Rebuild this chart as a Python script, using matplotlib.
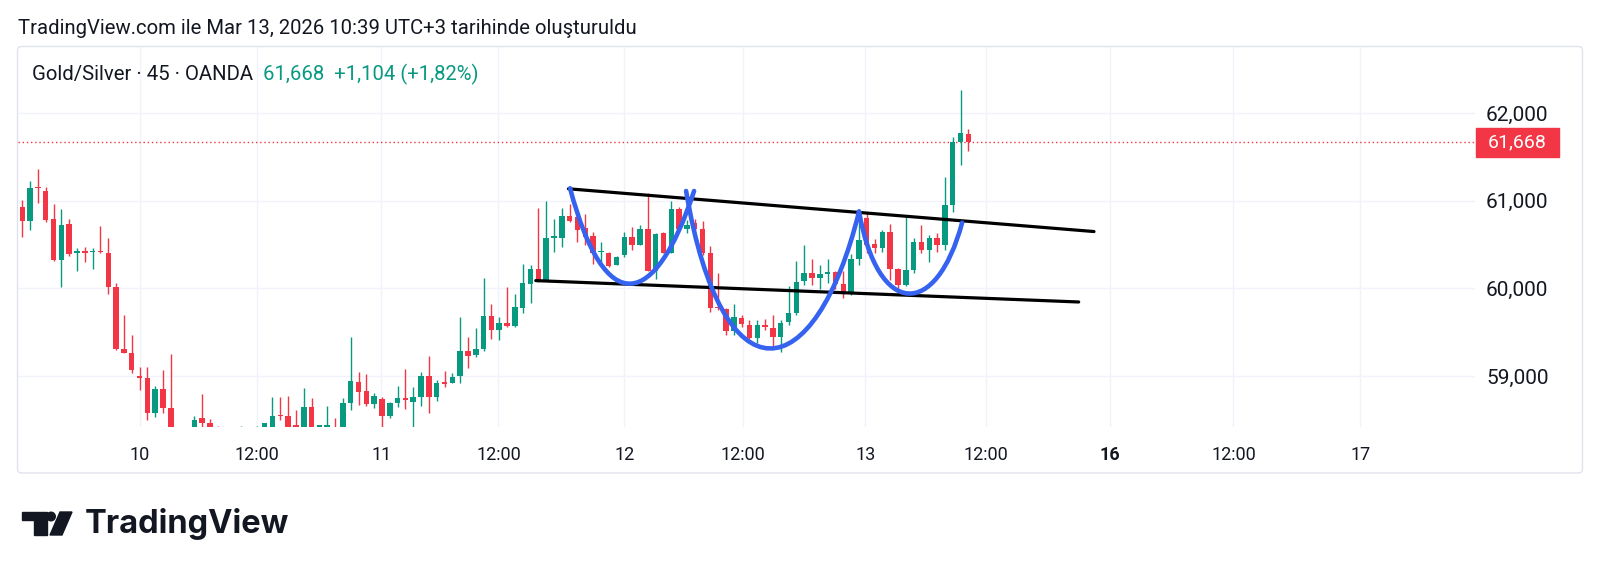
import matplotlib
matplotlib.use('Agg')
import matplotlib.pyplot as plt
import matplotlib.transforms as mtransforms
from matplotlib.patches import Rectangle, Polygon, Circle, PathPatch, FancyBboxPatch
from matplotlib.path import Path

plt.rcParams['font.family'] = ['Roboto', 'DejaVu Sans']

# Gold/Silver 45 min bars (OANDA)
opens = [60927, 60774, 61155, 61116, 60790, 60325, 60732, 60408, 60420, 60412,
         60427, 60401, 60020, 59309, 59260, 58993, 58974, 58582, 58849, 58636,
         58400, 58350, 58390, 58517, 58461, 58400, 58360, 58390, 58370, 58395,
         58380, 58410, 58390, 58556, 58544, 58442, 58400, 58644, 58410, 58415,
         58420, 58400, 58689, 58936, 58833, 58682, 58735, 58544, 58689, 58746,
         58708, 58758, 59001, 58765, 58929, 58917, 59001, 59286, 59240, 59309,
         59686, 59526, 59602, 59572, 59774, 60051, 60219, 60097, 60580, 60580,
         60831, 60820, 60686, 60599, 60416, 60401, 60268, 60382, 60591, 60496,
         60675, 60203, 60637, 60408, 60904, 60675, 60744, 60675, 60401, 59793,
         59762, 59518, 59659, 59583, 59431, 59583, 59545, 59443, 59621, 59716,
         60089, 60173, 60120, 60169, 60184, 60046, 59944, 60336, 60801, 60508,
         60458, 60648, 60219, 60040, 60211, 60527, 60439, 60580, 60496, 60957,
         61675, 61760]
highs = [61010, 61230, 61360, 61162, 60964, 60904, 60790, 60465, 60477, 60465,
         60713, 60572, 60059, 59697, 59469, 59100, 59100, 58887, 59069, 59252,
         58420, 58415, 58546, 58790, 58515, 58425, 58420, 58410, 58425, 58420,
         58425, 58470, 58765, 58765, 58772, 58613, 58866, 58746, 58445, 58659,
         58517, 58746, 59443, 59050, 59024, 58810, 58765, 58708, 58887, 59077,
         58872, 59050, 59233, 58955, 59062, 59032, 59671, 59443, 59545, 60116,
         59822, 59671, 60020, 59933, 60279, 60268, 60919, 61002, 60790, 60915,
         60964, 60850, 60850, 60648, 60534, 60420, 60371, 60648, 60705, 60724,
         61093, 60637, 60648, 61002, 60934, 60782, 60790, 60774, 60485, 60173,
         59774, 59822, 59697, 59640, 59640, 59648, 59697, 59640, 60029, 60317,
         60496, 60336, 60268, 60336, 60196, 60196, 60394, 60873, 60865, 60561,
         60667, 60739, 60230, 60827, 60572, 60724, 60610, 60629, 61269, 61732,
         62266, 61817]
lows = [60584, 60667, 60972, 60763, 60317, 60020, 60371, 60203, 60306, 60219,
        60401, 59936, 59298, 59260, 59031, 58841, 58498, 58536, 58582, 58350,
        58300, 58300, 58370, 58420, 58390, 58300, 58310, 58320, 58340, 58330,
        58350, 58390, 58370, 58498, 58380, 58390, 58380, 58390, 58400, 58400,
        58380, 58380, 58613, 58670, 58659, 58633, 58400, 58517, 58651, 58621,
        58400, 58659, 58582, 58719, 58872, 58917, 58924, 59096, 59214, 59290,
        59418, 59412, 59564, 59564, 59716, 59830, 60078, 60097, 60420, 60470,
        60762, 60534, 60496, 60279, 60306, 60249, 60268, 60356, 60439, 60496,
        60203, 60105, 60401, 60401, 60648, 60630, 60667, 60382, 59735, 59754,
        59469, 59469, 59564, 59420, 59374, 59526, 59317, 59279, 59583, 59697,
        60040, 60040, 59995, 60059, 59995, 59887, 59925, 60268, 60401, 60401,
        60420, 60097, 59925, 60029, 60180, 60401, 60306, 60420, 60439, 60873,
        61410, 61573]
closes = [60774, 61143, 61143, 60782, 60325, 60724, 60390, 60416, 60408, 60427,
          60416, 60020, 59309, 59260, 59069, 58981, 58575, 58849, 58636, 58400,
          58350, 58380, 58498, 58468, 58420, 58360, 58390, 58370, 58395, 58380,
          58405, 58468, 58548, 58544, 58400, 58420, 58644, 58410, 58442, 58437,
          58400, 58689, 58944, 58822, 58682, 58773, 58544, 58696, 58753, 58727,
          58758, 59001, 58758, 58917, 58910, 58993, 59286, 59229, 59309, 59686,
          59526, 59602, 59572, 59785, 60059, 60219, 60097, 60572, 60591, 60831,
          60770, 60667, 60591, 60408, 60427, 60257, 60356, 60584, 60496, 60675,
          60203, 60622, 60408, 60904, 60675, 60724, 60675, 60401, 59774, 59774,
          59518, 59671, 59594, 59431, 59583, 59557, 59443, 59602, 59716, 60078,
          60173, 60120, 60169, 60184, 60046, 59944, 60336, 60553, 60496, 60458,
          60648, 60219, 60040, 60211, 60527, 60439, 60580, 60496, 60957, 61675,
          61778, 61668]

last_price = 61668
price_ticks = [59000, 60000, 61000, 62000]
price_labels = ['59,000', '60,000', '61,000', '62,000']
# bar index of each time label
time_ticks = [15, 30, 45.9, 60.9, 77, 92.2, 107.8, 123.3, 139.1, 154.9, 171.1]
time_labels = ['10', '12:00', '11', '12:00', '12', '12:00', '13', '12:00', '16', '12:00', '17']

# drawings: channel lines and the blue cup arcs (bar index, price)
upper_line = ([69.85, 137.07], [61138, 60650])
lower_line = ([65.67, 135.11], [60090, 59846])
cup_arcs = [
    [(70.06, 61144), (74.53, 59640), (80.93, 59754), (85.92, 61113)],
    [(84.9, 61113), (89.5, 58670), (101.4, 58841), (107.02, 60879)],
    [(107.02, 60879), (109.45, 59652), (116.9, 59652), (120.2, 60751)],
]

green = '#089981'
red = '#f23645'
txt = '#131722'
W, H = 1600, 575


def fx(px):
    return px / W


def fy(py):
    return 1 - py / H


fig = plt.figure(figsize=(16, 5.75), dpi=100)

bg = fig.add_axes([0, 0, 1, 1])
bg.set_xlim(0, W)
bg.set_ylim(H, 0)
bg.axis('off')
bg.add_patch(FancyBboxPatch((17.5, 46.5), 1565, 426.5,
                            boxstyle='round,pad=0,rounding_size=4',
                            fill=False, ec='#e0e3eb', lw=1))

ax = fig.add_axes([fx(18), fy(427), (1475 - 18) / W, (427 - 46.7) / H])
ax.patch.set_alpha(0)
ax.set_xlim(-0.55, 185.8)
ax.set_ylim(58419, 62760)

for i, (o, h, l, c) in enumerate(zip(opens, highs, lows, closes)):
    col = green if c >= o else red
    ax.vlines(i, l, h, color=col, lw=1, zorder=2)
    ax.bar(i, max(abs(c - o), 15), bottom=min(o, c), width=0.7, color=col, zorder=2)

ax.grid(True, color='#f0f3fa', lw=1)
ax.set_axisbelow(True)
for s in ax.spines.values():
    s.set_visible(False)

ax.yaxis.tick_right()
ax.set_yticks(price_ticks)
ax.set_yticklabels(price_labels)
ax.tick_params(axis='y', length=0, pad=8, labelsize=15, labelcolor=txt)
ax.set_xticks(time_ticks)
ax.set_xticklabels(time_labels)
ax.tick_params(axis='x', length=0, pad=14, labelsize=13, labelcolor=txt)
for lab in ax.get_xticklabels():
    if lab.get_text() == '16':
        lab.set_fontweight('bold')

ax.axhline(last_price, color=red, lw=1, ls=(0, (1, 2)), zorder=1)
trans = mtransforms.blended_transform_factory(ax.transAxes, ax.transData)
ax.add_patch(Rectangle((1.0007, last_price - 165), 0.057, 331, transform=trans,
                       color=red, clip_on=False, zorder=3))
ax.text(1.0292, last_price, f'{last_price:,}', transform=trans, color='white',
        ha='center', va='center', size=14, zorder=4)

ax.plot(*upper_line, color='black', lw=2.3, solid_capstyle='round', zorder=4)
ax.plot(*lower_line, color='black', lw=2.3, solid_capstyle='round', zorder=4)
for arc in cup_arcs:
    path = Path(arc, [Path.MOVETO, Path.CURVE4, Path.CURVE4, Path.CURVE4])
    ax.add_patch(PathPatch(path, fill=False, ec='#3563f0', lw=3.3,
                           capstyle='round', zorder=5))

# header
fig.text(fx(18), fy(29), 'TradingView.com ile Mar 13, 2026 10:39 UTC+3 tarihinde oluşturuldu',
         va='center', size=14.6, color=txt)
fig.text(fx(32), fy(74), 'Gold/Silver · 45 · OANDA', va='center', size=14.7, color=txt)
fig.text(fx(263), fy(74), '61,668  +1,104 (+1,82%)', va='center', size=14.6, color=green)

# logo
bg.add_patch(Polygon([(22, 512), (47, 512), (47, 535), (34, 535), (34, 520), (22, 520)],
                     color=txt))
bg.add_patch(Circle((51, 516.5), 4.3, color=txt))
bg.add_patch(Polygon([(60, 512), (72, 512), (62, 535), (50, 535)], color=txt))
fig.text(fx(85), fy(523.5), 'TradingView', va='center', size=23.5, weight='bold',
         family=['Inter', 'DejaVu Sans'], color=txt)

fig.savefig('out.png', dpi=100, facecolor='white')
